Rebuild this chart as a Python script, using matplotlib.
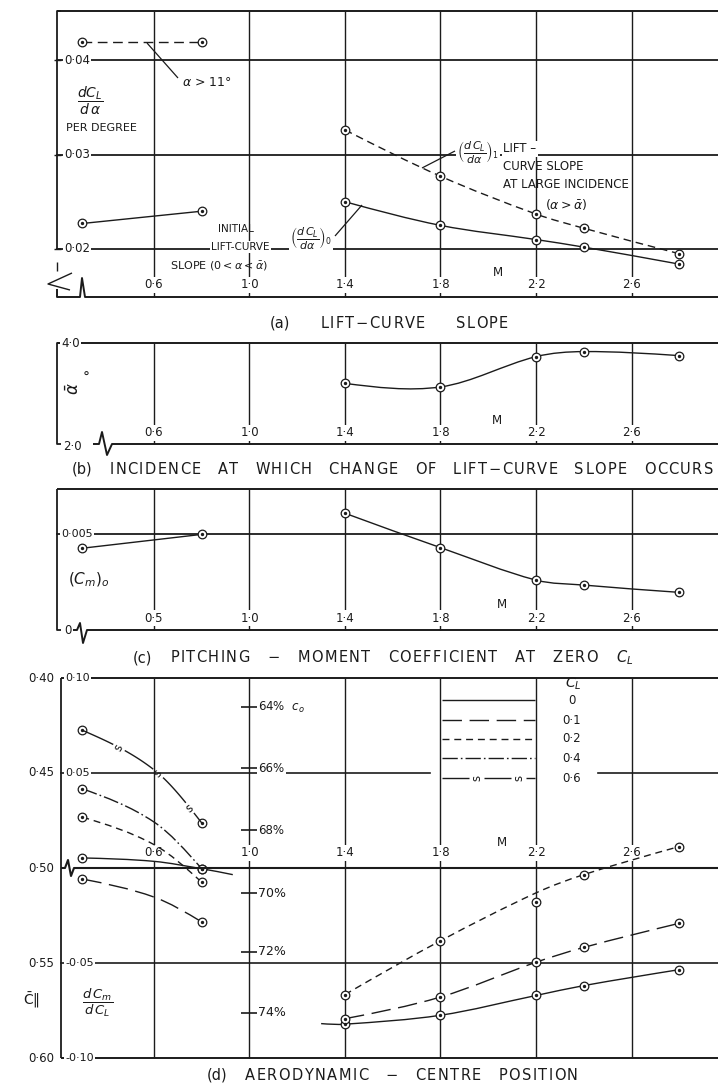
import numpy as np
import matplotlib
matplotlib.use("Agg")
import matplotlib.pyplot as plt
from matplotlib.path import Path
from matplotlib.patches import PathPatch
from matplotlib.lines import Line2D
from matplotlib import transforms

plt.rcParams['font.family'] = ['DejaVu Sans']
plt.rcParams['mathtext.fontset'] = 'dejavusans'
plt.rcParams['lines.scale_dashes'] = False

W, H = 718, 1087
INK = '#1b1b1b'

# ---------------- data ----------------
mach_ticks = [0.6, 1.0, 1.4, 1.8, 2.2, 2.6]
mach_tick_labels = ['0·6', '1·0', '1·4', '1·8', '2·2', '2·6']
mach_tick_labels_c = ['0·5', '1·0', '1·4', '1·8', '2·2', '2·6']

mach_sub = [0.3, 0.8]
mach_sup = [1.4, 1.8, 2.2, 2.4, 2.8]

# (a) lift-curve slope, per degree
slope_ticks = [0.02, 0.03, 0.04]
slope_tick_labels = ['0·02', '0·03', '0·04']
slope_beyond_11deg = [0.0419, 0.0419]
slope_initial_sub = [0.0227, 0.0240]
slope_large_inc = [0.0326, 0.0277, 0.0237, 0.0222, 0.0195]
slope_initial_sup = [0.0250, 0.0225, 0.0210, 0.0202, 0.0184]

# (b) incidence at which the lift-curve slope changes, degrees
alpha_ticks = [2.0, 4.0]
alpha_tick_labels = ['2·0', '4·0']
alpha_bar_deg = [3.20, 3.13, 3.73, 3.83, 3.75]

# (c) pitching-moment coefficient at zero lift
cm0_ticks = [0.0, 0.005]
cm0_tick_labels = ['0', '0·005']
cm0_sub = [0.00426, 0.00498]
cm0_sup = [0.00608, 0.00429, 0.00260, 0.00234, 0.00196]

# (d) aerodynamic-centre position: dCm/dCL (xbar = 0.5 - dCm/dCL)
dcm_ticks = [0.10, 0.05, -0.05, -0.10]
dcm_tick_labels = ['0·10', '0·05', '-0·05', '-0·10']
xbar_ticks = [0.40, 0.45, 0.50, 0.55, 0.60]
xbar_tick_labels = ['0·40', '0·45', '0·50', '0·55', '0·60']
chord_pct_labels = ['64%  $c_o$', '66%', '68%', '70%', '72%', '74%']
chord_pct_dcm = [0.0847, 0.0526, 0.0200, -0.0132, -0.0442, -0.0763]
cl_legend = ['0', '0·1', '0·2', '0·4', '0·6']

# subsonic faired curves (tests at M = 0.3 and 0.8)
mach_d_sub = [0.3, 0.6, 0.8]
mach_d_sub_cl0 = [0.3, 0.6, 0.8, 0.93]
dcm_sub_cl0 = [0.0053, 0.0035, -0.0004, -0.0035]
dcm_sub_cl01 = [-0.0058, -0.0153, -0.0284]
dcm_sub_cl02 = [0.0268, 0.0123, -0.0075]
dcm_sub_cl04 = [0.0417, 0.0242, -0.0004]
dcm_sub_cl06 = [0.0725, 0.0517, 0.0237]

# supersonic tests
dcm_sup_cl0 = [-0.0822, -0.0775, -0.0671, -0.0619, -0.0535]
dcm_sup_cl01 = [-0.0793, -0.0679, -0.0496, -0.0418, -0.0291]
dcm_sup_cl02 = [-0.0666, -0.0383, -0.0178, -0.0035, 0.0113]
# faired supersonic curves where they differ from the tests
mach_fair_cl0 = [1.3, 1.4, 1.8, 2.2, 2.4, 2.8]
dcm_fair_cl0 = [-0.0819, -0.0822, -0.0775, -0.0671, -0.0619, -0.0535]
dcm_fair_cl02 = [-0.0666, -0.0383, -0.0131, -0.0035, 0.0113]

# ---------------- figure helpers ----------------
fig = plt.figure(figsize=(W / 100, H / 100), dpi=100)
fig.patch.set_facecolor('white')
renderer = fig.canvas.get_renderer()

PX_PER_M = 238.75
XLIM = (0.6 - (154 - 57) / PX_PER_M, 0.6 + (718 - 154) / PX_PER_M)
WHITE = dict(boxstyle='square,pad=0.12', fc='white', ec='none')


def fline(xs, ys, lw=1.0, **kw):
    fig.add_artist(Line2D([x / W for x in xs], [1 - y / H for y in ys],
                          transform=fig.transFigure, color=INK, lw=lw,
                          solid_capstyle='butt', zorder=2, **kw))


def ftext(x, y, s, size=8.5, ha='left', va='center', **kw):
    return fig.text(x / W, 1 - y / H, s, fontsize=size, ha=ha, va=va,
                    color=INK, zorder=3, **kw)


def caption(x0, x1, y, text, size=10.5, track=1.4):
    """Lightly letter-spaced caption whose word gaps fill the span x0..x1."""
    words = []
    for w in text.split(' '):
        if w.startswith('$') or w.startswith('(') or len(w) == 1:
            words.append([w])
        else:
            words.append(list(w))
    items = []
    for w in words:
        row = []
        for tok in w:
            t = ftext(0, y, tok, size=size)
            row.append((t, t.get_window_extent(renderer).width))
        items.append(row)
    letters = sum(wp for r in items for _, wp in r)
    letters += track * sum(len(r) - 1 for r in items)
    word_gap = ((x1 - x0) - letters) / max(len(items) - 1, 1)
    x = x0
    for r in items:
        for i, (t, wp) in enumerate(r):
            t.set_x(x / W)
            x += wp + (track if i < len(r) - 1 else 0)
        x += word_gap


def panel(top, bottom, ylim):
    ax = fig.add_axes([57 / W, 1 - bottom / H, (718 - 57) / W, (bottom - top) / H])
    ax.set_xlim(*XLIM)
    ax.set_ylim(*ylim)
    ax.set_axis_off()
    ax.top_px, ax.bottom_px = top, bottom
    return ax


def yfrac(ax, ypx):
    return (ax.bottom_px - ypx) / (ax.bottom_px - ax.top_px)


def vgrid(ax, lw=1.0):
    lo, hi = ax.get_ylim()
    ax.vlines(mach_ticks, lo, hi, color=INK, lw=lw, zorder=1, clip_on=False)


def hgrid(ax, values, lw=1.2, xmin=0.0, xmax=1.0):
    for v in values:
        ax.axhline(v, xmin=xmin, xmax=xmax, color=INK, lw=lw, zorder=1, clip_on=False)


def mach_labels(ax, ypx, labels):
    tr = transforms.blended_transform_factory(ax.transData, ax.transAxes)
    for m, lab in zip(mach_ticks, labels):
        ax.text(m, yfrac(ax, ypx), lab, transform=tr, ha='center', va='center',
                fontsize=8.5, color=INK, bbox=WHITE, zorder=3)


def smooth_path(xs, ys):
    """Cubic Hermite fairing through the points, as a Bezier path."""
    x = np.asarray(xs, float)
    y = np.asarray(ys, float)
    if len(x) == 2:
        return Path(np.column_stack([x, y]), [Path.MOVETO, Path.LINETO])
    sec = np.diff(y) / np.diff(x)
    d = np.empty_like(x)
    d[1:-1] = (y[2:] - y[:-2]) / (x[2:] - x[:-2])
    d[0] = (3 * sec[0] - d[1]) / 2
    d[-1] = (3 * sec[-1] - d[-2]) / 2
    verts, codes = [(x[0], y[0])], [Path.MOVETO]
    for i in range(len(x) - 1):
        h = x[i + 1] - x[i]
        verts += [(x[i] + h / 3, y[i] + d[i] * h / 3),
                  (x[i + 1] - h / 3, y[i + 1] - d[i + 1] * h / 3),
                  (x[i + 1], y[i + 1])]
        codes += [Path.CURVE4] * 3
    return Path(np.array(verts), codes)


def sample_path(path, n=40):
    v = path.vertices
    t = np.linspace(0, 1, n)[:, None]
    if len(v) == 2:
        return v[0] * (1 - t) + v[1] * t
    out = [v[:1]]
    t = t[1:]
    for i in range(0, len(v) - 1, 3):
        p0, p1, p2, p3 = v[i], v[i + 1], v[i + 2], v[i + 3]
        out.append((1 - t) ** 3 * p0 + 3 * (1 - t) ** 2 * t * p1
                   + 3 * (1 - t) * t ** 2 * p2 + t ** 3 * p3)
    return np.vstack(out)


def curve(ax, xs, ys, ls='-', lw=1.0):
    ax.add_patch(PathPatch(smooth_path(xs, ys), fill=False, ec=INK, lw=lw,
                           ls=ls, zorder=4, capstyle='butt', joinstyle='round',
                           clip_on=False))


def rings(ax, xs, ys):
    ax.plot(xs, ys, ls='none', marker='o', ms=6.2, mfc='white', mec=INK,
            mew=0.9, zorder=5, clip_on=False)
    ax.plot(xs, ys, ls='none', marker='o', ms=1.4, color=INK, zorder=6,
            clip_on=False)


def s_line(xp, yp, dash=30, gap=13, lw=1.0):
    """Line drawn as long strokes with an 's' in every gap (pixel coords)."""
    xp, yp = np.asarray(xp, float), np.asarray(yp, float)
    s = np.concatenate([[0], np.cumsum(np.hypot(np.diff(xp), np.diff(yp)))])
    total = s[-1]
    pos = 0.0
    while pos < total - 1:
        end = min(pos + dash, total)
        q = np.linspace(pos, end, 15)
        fline(np.interp(q, s, xp), np.interp(q, s, yp), lw=lw)
        c = end + gap / 2
        if c < total - 2:
            cx, cy = np.interp(c, s, xp), np.interp(c, s, yp)
            dx = np.interp(c + 2, s, xp) - np.interp(c - 2, s, xp)
            dy = np.interp(c + 2, s, yp) - np.interp(c - 2, s, yp)
            ang = np.degrees(np.arctan2(-dy, dx))
            ftext(cx, cy, 's', size=8.5, ha='center', rotation=ang + 90,
                  rotation_mode='anchor')
        pos = end + gap


def to_px(ax, xs, ys):
    d = ax.transData.transform(np.column_stack([xs, ys]))
    return d[:, 0], H - d[:, 1]


DASH_A = (0, (5.5, 3.5))
DASH_11 = (0, (7, 4))
DASH_CL01 = (0, (14, 5.5))
DASH_CL02 = (0, (5, 3.5))
DASH_CL04 = (0, (11, 2.2, 1.2, 2.2))

# ================= (a) lift-curve slope =================
axa = panel(11, 297, (0.02 - 48 / 9450, 0.04 + 49 / 9450))
vgrid(axa)
hgrid(axa, slope_ticks, lw=1.3)
fline([57, 718], [11, 11], lw=1.4)
fline([61, 57, 57, 61], [11, 11, 249, 249], lw=1.3)
fline([57, 57], [262, 271], lw=1.0)
fline([72, 48, 70], [273, 284, 290], lw=1.0)
fline([57, 57, 80, 82, 85, 718], [289, 297, 297, 278, 297, 297], lw=1.4)
for v, lab in zip(slope_ticks, slope_tick_labels):
    ypx = 249 - (v - 0.02) * 9450
    fline([54, 61], [ypx, ypx], lw=1.0)
    ftext(64, ypx, lab, bbox=WHITE)
mach_labels(axa, 285, mach_tick_labels)
ftext(493, 272, 'M')

curve(axa, mach_sub, slope_beyond_11deg, ls=DASH_11)
rings(axa, mach_sub, slope_beyond_11deg)
curve(axa, mach_sub, slope_initial_sub)
rings(axa, mach_sub, slope_initial_sub)
curve(axa, mach_sup, slope_large_inc, ls=DASH_A)
rings(axa, mach_sup, slope_large_inc)
curve(axa, mach_sup, slope_initial_sup)
rings(axa, mach_sup, slope_initial_sup)

ftext(90, 101, r'$\dfrac{dC_L}{d\,\alpha}$', size=10, ha='center')
ftext(66, 128, 'PER DEGREE', size=8)
fline([147, 178], [43, 78], lw=0.9)
ftext(182, 82, r'$\alpha$ > 11°', size=9)

ftext(236, 229, 'INITIAL', size=7.5, ha='center')
ftext(240, 247, 'LIFT-CURVE', size=7.5, ha='center', bbox=WHITE)
ftext(170, 266, r'SLOPE $(0 < \alpha < \bar{\alpha})$', size=8)
ftext(311, 238, r'$\left(\dfrac{d\,C_L}{d\alpha}\right)_0$', size=8, ha='center',
      bbox=WHITE)
fline([335, 362], [236, 205], lw=0.9)

ftext(478, 152, r'$\left(\dfrac{d\,C_L}{d\alpha}\right)_1$', size=8, ha='center',
      bbox=WHITE)
ftext(503, 149, 'LIFT –', size=8.5, bbox=WHITE)
fline([422, 455], [168, 151], lw=0.9)
ftext(503, 167, 'CURVE SLOPE', size=8.5)
ftext(503, 185, 'AT LARGE INCIDENCE', size=8.5)
ftext(545, 204, r'$(\alpha > \bar{\alpha})$', size=9)

caption(270, 508, 323, '(a) LIFT−CURVE SLOPE')

# ================= (b) change of lift-curve slope =================
axb = panel(343, 444, (2.0, 4.0))
vgrid(axb)
fline([57, 718], [343, 343], lw=1.4)
fline([61, 57, 57, 61], [343, 343, 444, 444], lw=1.3)
fline([93, 99, 102, 107, 112, 718], [444, 444, 432, 455, 444, 444], lw=1.4)
ftext(61, 343, alpha_tick_labels[1], bbox=WHITE)
ftext(63, 446, alpha_tick_labels[0])
mach_labels(axb, 433, mach_tick_labels)
ftext(492, 420, 'M')
ftext(74, 389, r'$\bar{\alpha}$', size=12, ha='center', rotation=90)
ftext(86, 378, '°', size=10, ha='center')
curve(axb, mach_sup, alpha_bar_deg)
rings(axb, mach_sup, alpha_bar_deg)
caption(72, 713, 469, '(b) INCIDENCE AT WHICH CHANGE OF LIFT−CURVE SLOPE OCCURS')

# ================= (c) pitching moment at zero lift =================
axc = panel(489, 630, (0.0, 141 / 19200))
vgrid(axc)
hgrid(axc, cm0_ticks[1:], lw=1.3)
fline([57, 718], [489, 489], lw=1.4)
fline([57, 57, 61], [489, 630, 630], lw=1.3)
fline([73, 77, 80, 83, 87, 718], [630, 630, 623, 643, 630, 630], lw=1.4)
ftext(61, 534, cm0_tick_labels[1], size=8, bbox=WHITE)
ftext(64, 631, cm0_tick_labels[0])
mach_labels(axc, 618, mach_tick_labels_c)
ftext(497, 605, 'M')
ftext(68, 580, r'$(C_m)_o$', size=11)
curve(axc, mach_sub, cm0_sub)
rings(axc, mach_sub, cm0_sub)
curve(axc, mach_sup, cm0_sup)
rings(axc, mach_sup, cm0_sup)
caption(133, 633, 658, '(c) PITCHING − MOMENT COEFFICIENT AT ZERO $C_L$')

# ================= (d) aerodynamic-centre position =================
axd = panel(678, 1058, (-0.10, 0.10))
vgrid(axd)
x_l = (430 - 57) / 661
x_r = (598 - 57) / 661
hgrid(axd, [0.05], lw=1.2, xmin=(61 - 57) / 661, xmax=x_l)
hgrid(axd, [0.05], lw=1.2, xmin=x_r, xmax=1.0)
hgrid(axd, [-0.05], lw=1.2, xmin=(61 - 57) / 661)
fline([61, 718], [678, 678], lw=1.4)
fline([61, 718], [1058, 1058], lw=1.4)
fline([61, 61], [678, 1058], lw=1.3)
fline([61, 65, 68, 71, 74, 718], [868, 868, 860, 876, 868, 868], lw=1.5)

for v, lab in zip(dcm_ticks, dcm_tick_labels):
    ypx = 868 - v * 1900
    ftext(65, ypx, lab, size=8, bbox=WHITE)
for v, lab in zip(xbar_ticks, xbar_tick_labels):
    ypx = 868 + (v - 0.5) * 1900
    ftext(54, ypx, lab, size=8.5, ha='right')
ftext(31, 1000, r'$\bar{\mathrm{C}}$‖', size=10, ha='center')
ftext(98, 1003, r'$\dfrac{d\,C_m}{d\,C_L}$', size=9.5, ha='center')

for v, lab in zip(chord_pct_dcm, chord_pct_labels):
    ypx = 868 - v * 1900
    fline([241, 257], [ypx, ypx], lw=1.2)
    ftext(258, ypx, lab, size=8.5 if v > 0 else 9, bbox=WHITE)

mach_labels(axd, 853, mach_tick_labels)
ftext(497, 842, 'M')

# subsonic curves
curve(axd, mach_d_sub_cl0, dcm_sub_cl0)
curve(axd, mach_d_sub, dcm_sub_cl01, ls=DASH_CL01)
curve(axd, mach_d_sub, dcm_sub_cl02, ls=DASH_CL02)
curve(axd, mach_d_sub, dcm_sub_cl04, ls=DASH_CL04)
px, py = to_px(axd, *sample_path(smooth_path(mach_d_sub, dcm_sub_cl06)).T)
s_line(px, py, dash=34, gap=13)
for series in (dcm_sub_cl0, dcm_sub_cl01, dcm_sub_cl02, dcm_sub_cl04, dcm_sub_cl06):
    rings(axd, mach_sub, [series[0], series[2]])

# supersonic curves
curve(axd, mach_fair_cl0, dcm_fair_cl0)
curve(axd, mach_sup, dcm_sup_cl01, ls=DASH_CL01)
curve(axd, mach_sup, dcm_fair_cl02, ls=DASH_CL02)
rings(axd, mach_sup, dcm_sup_cl0)
rings(axd, mach_sup, dcm_sup_cl01)
rings(axd, mach_sup, dcm_sup_cl02)

# legend
ftext(573, 684, r'$C_L$', size=10, ha='center')
leg_y = [700, 720, 739, 758, 778]
leg_styles = ['-', DASH_CL01, DASH_CL02, DASH_CL04, None]
for y, lab, st in zip(leg_y, cl_legend, leg_styles):
    if st is None:
        s_line([442, 535], [y, y], dash=27, gap=15)
    else:
        fline([442, 535], [y, y], lw=1.0, linestyle=st)
    ftext(562 if lab != '0' else 568, y, lab, size=8.5)

caption(207, 578, 1075, '(d) AERODYNAMIC − CENTRE POSITION')

fig.savefig('out.png', dpi=100, facecolor='white')
